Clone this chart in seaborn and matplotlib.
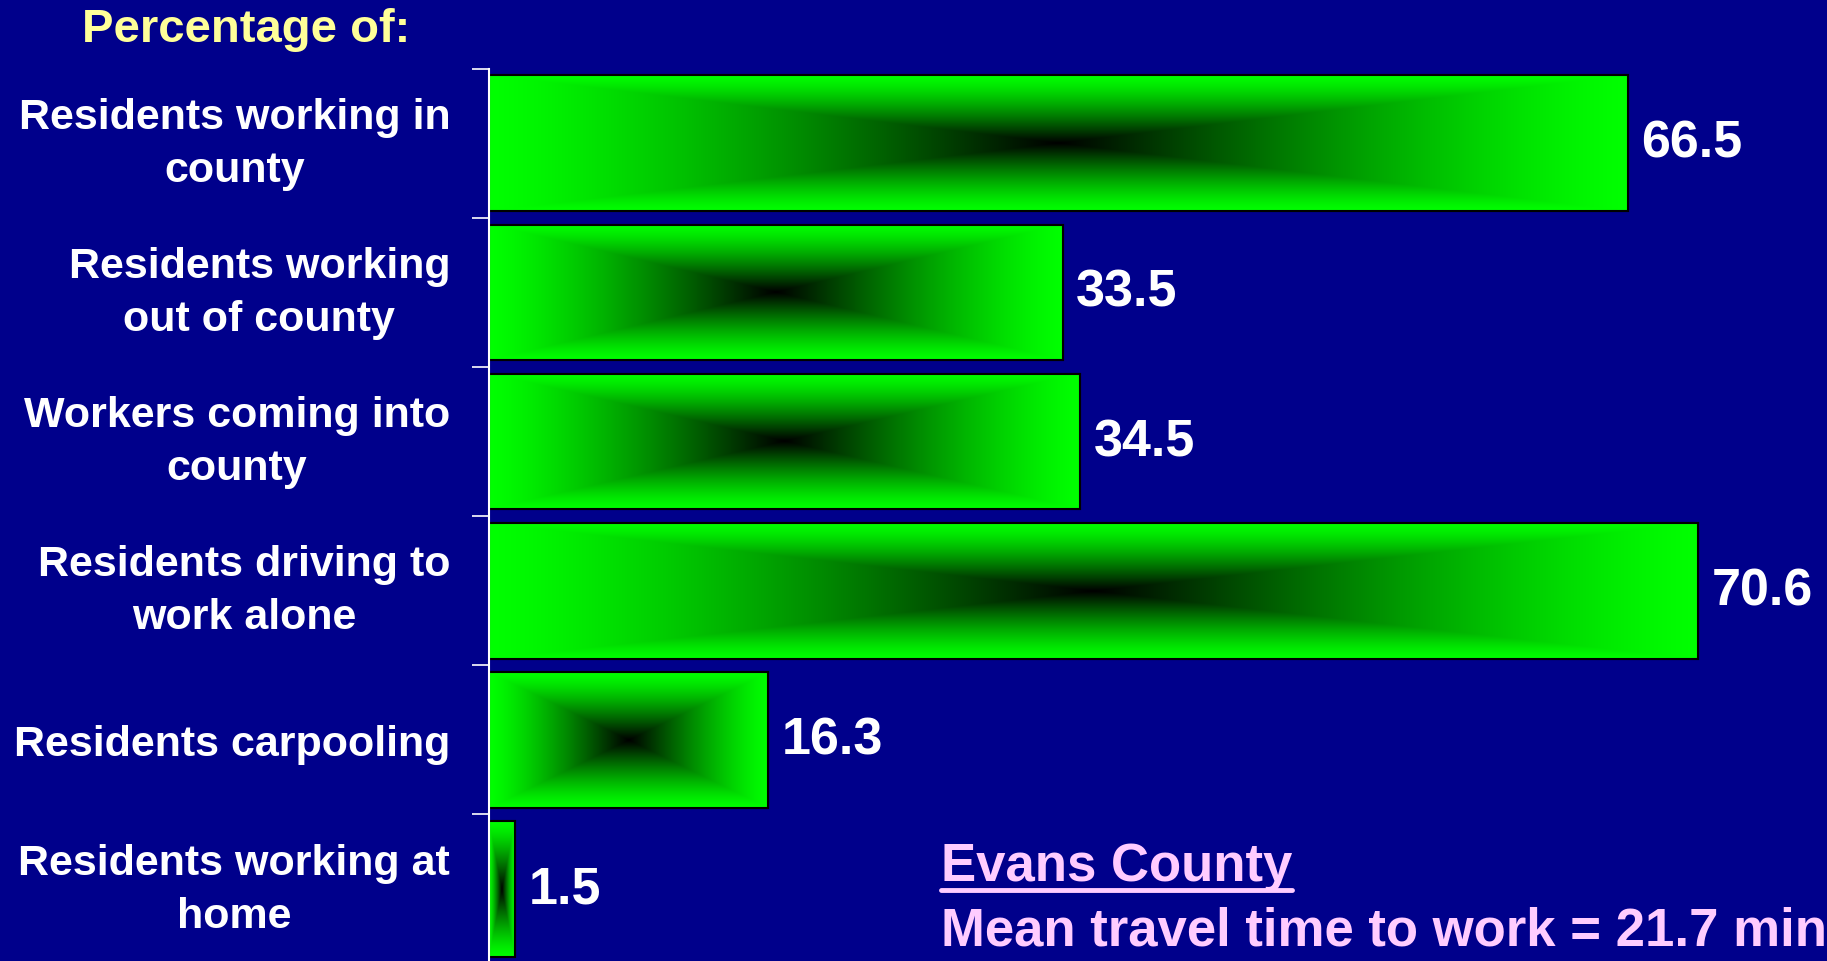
import numpy as np
import pandas as pd
import seaborn as sns
import matplotlib.pyplot as plt
from matplotlib.lines import Line2D

categories = ["Residents working in\ncounty", "Residents working\nout of county",
              "Workers coming into\ncounty", "Residents driving to\nwork alone",
              "Residents carpooling", "Residents working at\nhome"]
values = [66.5, 33.5, 34.5, 70.6, 16.3, 1.5]
county = "Evans County"
mean_note = "Mean travel time to work = 21.7 min"

bg = "#00008B"
green = "#00FF00"

sns.set_theme(style="white")
plt.rcParams["font.family"] = ["Liberation Sans", "DejaVu Sans"]
plt.rcParams["font.weight"] = "bold"

df = pd.DataFrame({"category": categories, "value": values})

fig = plt.figure(figsize=(18.27, 9.62), dpi=100, facecolor=bg)
ax = fig.add_axes([0.2677, -0.0027, 0.7323, 0.9303])
ax.set_facecolor(bg)

sns.barplot(data=df, x="value", y="category", orient="h", color=green,
            saturation=1, width=0.91, edgecolor="black", linewidth=1.5, ax=ax)

# rectangular gradient: black at the centre, green at the edges
n = 300
u = np.linspace(-1, 1, n)
gx, gy = np.meshgrid(u, u)
for p in ax.patches:
    x0, y0 = p.get_x(), p.get_y()
    w, h = p.get_width(), p.get_height()
    d = np.clip(np.maximum(np.abs(gx), np.abs(gy)), 0, 1)
    t = 1 - (1 - d) ** 1.3
    img = np.zeros((n, n, 3))
    img[..., 1] = t
    im = ax.imshow(img, extent=[x0, x0 + w, y0 + h, y0], aspect="auto",
                   interpolation="bilinear", zorder=p.get_zorder() + 0.1)
    im.set_clip_path(p)
    border = plt.Rectangle((x0, y0), w, h, fill=False, edgecolor="black",
                           linewidth=1.5, zorder=p.get_zorder() + 0.2)
    ax.add_patch(border)

for i, v in enumerate(values):
    ax.text(v + 0.8, i, f"{v}", color="white", fontsize=37.5, fontweight="bold",
            ha="left", va="center")

ax.set_xlim(0, 78.15)
ax.set_ylim(5.5, -0.5)
ax.set_xlabel("")
ax.set_ylabel("")
ax.set_xticks([])
ax.set_yticks(np.arange(-0.5, 5.6, 1.0), minor=False)
ax.set_yticklabels([])
ax.set_yticks(np.arange(0, 6), minor=True)
ax.set_yticklabels(categories, minor=True)
ax.tick_params(axis="y", which="major", left=True, length=12, width=1.2, color="white")
ax.tick_params(axis="y", which="minor", left=False, pad=24, labelsize=31,
               labelcolor="white")
for lab in ax.get_yticklabels(minor=True):
    lab.set_multialignment("center")
    lab.set_fontweight("bold")
    lab.set_linespacing(1.42)
    if "\n" in lab.get_text():
        lab.set_verticalalignment("center")

for side in ["top", "right", "bottom"]:
    ax.spines[side].set_visible(False)
ax.spines["left"].set_color("white")
ax.spines["left"].set_linewidth(1.5)

fig.text(246 / 1827, 1 - 30 / 962, "Percentage of:", color="#FFFF99", fontsize=34,
         fontweight="bold", ha="center", va="center")

t1 = fig.text(941 / 1827, 1 - 881 / 962, county, color="#FFCCFF", fontsize=38,
              fontweight="bold", ha="left", va="baseline")
fig.text(941 / 1827, 1 - 946 / 962, mean_note, color="#FFCCFF", fontsize=38,
         fontweight="bold", ha="left", va="baseline")

fig.canvas.draw()
bb = t1.get_window_extent().transformed(fig.transFigure.inverted())
uy = 1 - 891 / 962
fig.add_artist(Line2D([bb.x0, bb.x1], [uy, uy], color="#FFCCFF", linewidth=3.5,
                      transform=fig.transFigure))

fig.savefig("out.png", dpi=100, facecolor=bg)
